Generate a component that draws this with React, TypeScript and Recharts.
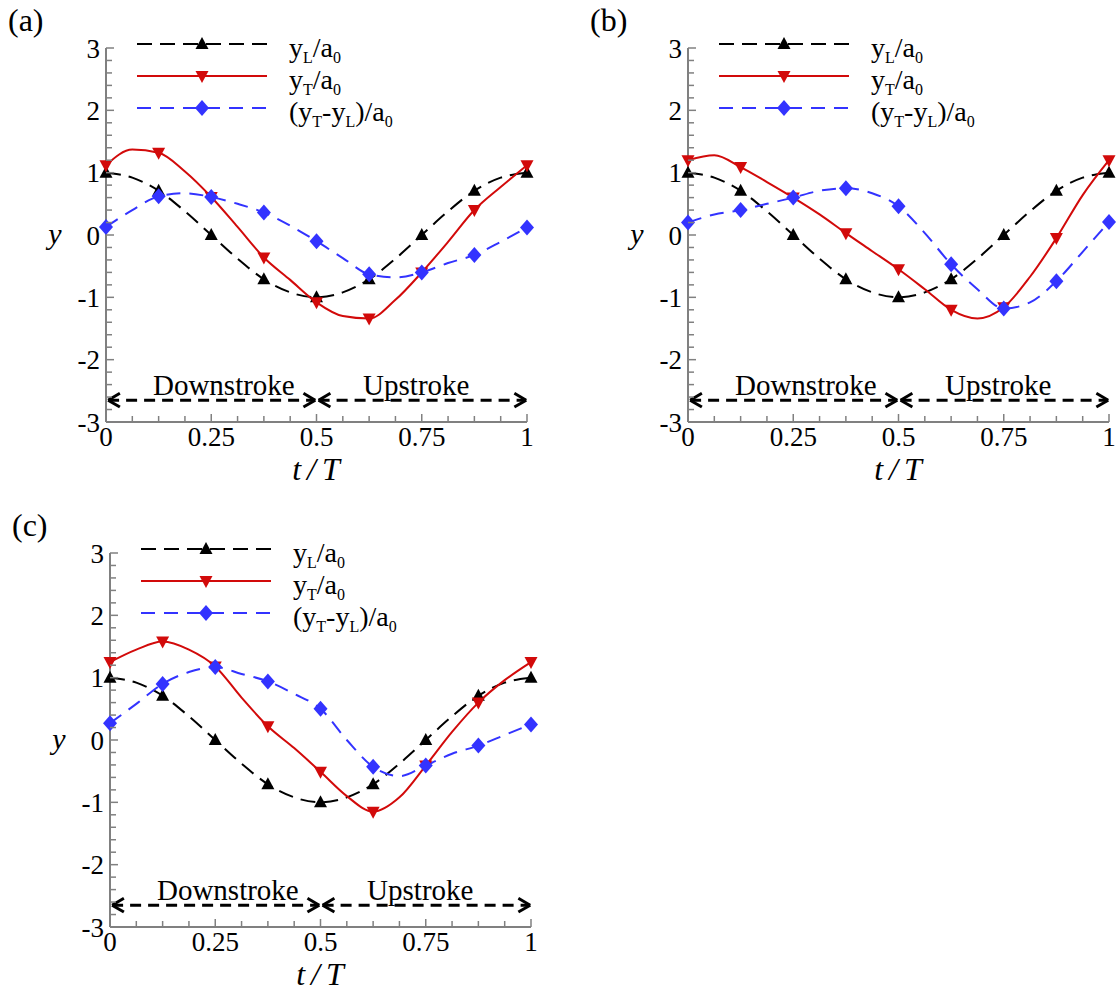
import React from 'react';
import {
  LineChart,
  Line,
  XAxis,
  YAxis,
  Legend,
  ReferenceLine,
  ReferenceDot,
} from 'recharts';

const SERIF = "'Liberation Serif', 'Times New Roman', serif";
const AXIS = '#808080';
const BLACK = '#000000';
const RED = '#d20a0a';
const BLUE = '#3333ff';

// phase t/T, sampled every 1/16 of a cycle (markers sit on every 1/8)
const tValues = [
  0, 0.0625, 0.125, 0.1875, 0.25, 0.3125, 0.375, 0.4375, 0.5,
  0.5625, 0.625, 0.6875, 0.75, 0.8125, 0.875, 0.9375, 1,
];
const xTicks = tValues;
const xMajor = [0, 0.25, 0.5, 0.75, 1];
const yTicks = [
  -3, -2.8, -2.6, -2.4, -2.2, -2, -1.8, -1.6, -1.4, -1.2, -1, -0.8, -0.6, -0.4, -0.2,
  0, 0.2, 0.4, 0.6, 0.8, 1, 1.2, 1.4, 1.6, 1.8, 2, 2.2, 2.4, 2.6, 2.8, 3,
];
const yMajor = [-3, -2, -1, 0, 1, 2, 3];

// leading edge y_L/a0 (same prescribed motion in every case)
const leadingEdge = [1, 0.92, 0.71, 0.38, 0, -0.38, -0.71, -0.92, -1, -0.92, -0.71, -0.38, 0, 0.38, 0.71, 0.92, 1];

// case (a)
const trailingA = [1.12, 1.37, 1.32, 1.02, 0.61, 0.13, -0.36, -0.72, -1.08, -1.3, -1.34, -1.04, -0.6, -0.11, 0.4, 0.77, 1.12];
const relativeA = [0.13, 0.4, 0.62, 0.67, 0.61, 0.5, 0.36, 0.15, -0.1, -0.37, -0.63, -0.68, -0.6, -0.45, -0.32, -0.11, 0.12];

// case (b)
const trailingB = [1.2, 1.28, 1.09, 0.85, 0.6, 0.33, 0.03, -0.26, -0.55, -0.87, -1.2, -1.34, -1.16, -0.67, -0.05, 0.64, 1.2];
const relativeB = [0.2, 0.33, 0.4, 0.5, 0.6, 0.71, 0.75, 0.67, 0.46, 0.03, -0.47, -0.87, -1.18, -1.08, -0.74, -0.27, 0.21];

// case (c)
const trailingC = [1.25, 1.45, 1.58, 1.45, 1.18, 0.68, 0.22, -0.13, -0.51, -0.9, -1.15, -0.92, -0.41, 0.13, 0.6, 0.96, 1.25];
const relativeC = [0.27, 0.58, 0.9, 1.09, 1.17, 1.06, 0.94, 0.74, 0.5, 0, -0.43, -0.58, -0.41, -0.22, -0.09, 0.08, 0.25];

const ARROW_Y = -2.65;
const STROKE_LABEL_Y = -2.57;

type Shape = 'up' | 'down' | 'diamond';

function Marker({ shape, cx, cy, color }: { shape: Shape; cx: number; cy: number; color: string }) {
  let pts = '';
  if (shape === 'up') pts = `${cx},${cy - 7} ${cx - 6.5},${cy + 5} ${cx + 6.5},${cy + 5}`;
  else if (shape === 'down') pts = `${cx - 6.5},${cy - 5} ${cx + 6.5},${cy - 5} ${cx},${cy + 7}`;
  else pts = `${cx},${cy - 8} ${cx + 7},${cy} ${cx},${cy + 8} ${cx - 7},${cy}`;
  return <polygon points={pts} fill={color} stroke="none" />;
}

const dotEvery8th = (shape: Shape, color: string) => (p: any) =>
  p.index % 2 === 0 ? (
    <Marker key={p.index} shape={shape} cx={p.cx} cy={p.cy} color={color} />
  ) : (
    <g key={p.index} />
  );

const SUB: React.CSSProperties = { fontSize: 16, verticalAlign: '-6px', lineHeight: 0 };

const legendRows = [
  {
    key: 'yL',
    color: BLACK,
    dash: '15 8',
    shape: 'up' as Shape,
    label: (
      <>
        y<sub style={SUB}>L</sub>/a<sub style={SUB}>0</sub>
      </>
    ),
  },
  {
    key: 'yT',
    color: RED,
    dash: undefined,
    shape: 'down' as Shape,
    label: (
      <>
        y<sub style={SUB}>T</sub>/a<sub style={SUB}>0</sub>
      </>
    ),
  },
  {
    key: 'dy',
    color: BLUE,
    dash: '14 9',
    shape: 'diamond' as Shape,
    label: (
      <>
        (y<sub style={SUB}>T</sub>-y<sub style={SUB}>L</sub>)/a<sub style={SUB}>0</sub>
      </>
    ),
  },
];

const renderLegend = () => (
  <div style={{ fontFamily: SERIF, fontSize: 28, color: '#000' }}>
    {legendRows.map((r) => (
      <div key={r.key} style={{ display: 'flex', alignItems: 'center', height: 32 }}>
        <svg width={130} height={20} style={{ display: 'block' }}>
          <line x1={0} x2={130} y1={10} y2={10} stroke={r.color} strokeWidth={2} strokeDasharray={r.dash} />
          <Marker shape={r.shape} cx={65} cy={10} color={r.color} />
        </svg>
        <span style={{ marginLeft: 22, lineHeight: '32px', position: 'relative', top: 4, whiteSpace: 'nowrap' }}>
          {r.label}
        </span>
      </div>
    ))}
  </div>
);

const renderXTick = (p: any) => {
  const v = p.payload.value;
  const major = xMajor.includes(v);
  return (
    <g>
      <line x1={p.x} x2={p.x} y1={p.y} y2={p.y - (major ? 8 : 6)} stroke={AXIS} strokeWidth={1.5} />
      {major && (
        <text x={p.x} y={p.y + 24} textAnchor="middle" fontFamily={SERIF} fontSize={27} fill="#000">
          {String(v)}
        </text>
      )}
    </g>
  );
};

const renderYTick = (p: any) => {
  const v = p.payload.value;
  const major = yMajor.includes(v);
  return (
    <g>
      <line x1={p.x} x2={p.x + (major ? 8 : 6)} y1={p.y} y2={p.y} stroke={AXIS} strokeWidth={1.5} />
      {major && (
        <text x={p.x - 6} y={p.y} dy="0.36em" textAnchor="end" fontFamily={SERIF} fontSize={27} fill="#000">
          {String(v)}
        </text>
      )}
    </g>
  );
};

// dashed double-headed arrow between two phases
const arrow = (id: string, from: number, to: number) => {
  const hx = 0.028;
  const hy = 0.11;
  const st = { stroke: BLACK, strokeWidth: 3 };
  return [
    <ReferenceLine key={id + 's'} segment={[{ x: from, y: ARROW_Y }, { x: to, y: ARROW_Y }]} {...st} strokeDasharray="11 7" />,
    <ReferenceLine key={id + 'l1'} segment={[{ x: from, y: ARROW_Y }, { x: from + hx, y: ARROW_Y + hy }]} {...st} />,
    <ReferenceLine key={id + 'l2'} segment={[{ x: from, y: ARROW_Y }, { x: from + hx, y: ARROW_Y - hy }]} {...st} />,
    <ReferenceLine key={id + 'r1'} segment={[{ x: to, y: ARROW_Y }, { x: to - hx, y: ARROW_Y + hy }]} {...st} />,
    <ReferenceLine key={id + 'r2'} segment={[{ x: to, y: ARROW_Y }, { x: to - hx, y: ARROW_Y - hy }]} {...st} />,
  ];
};

const strokeLabel = (text: string, t: number) => (
  <ReferenceDot
    key={text}
    x={t}
    y={STROKE_LABEL_Y}
    r={0}
    shape={(p: any) => (
      <text x={p.cx} y={p.cy} textAnchor="middle" fontFamily={SERIF} fontSize={29} fill="#000">
        {text}
      </text>
    )}
  />
);

interface PanelProps {
  tag: string;
  left: number;
  top: number;
  trailing: number[];
  relative: number[];
}

function Panel({ tag, left, top, trailing, relative }: PanelProps) {
  const data = tValues.map((t, i) => ({ t, yL: leadingEdge[i], yT: trailing[i], dy: relative[i] }));

  return (
    <div style={{ position: 'absolute', left, top, width: 560, height: 494 }}>
      <LineChart width={560} height={480} data={data} margin={{ top: 48, right: 33, bottom: 8, left: 46 }}>
        <XAxis
          dataKey="t"
          type="number"
          domain={[0, 1]}
          ticks={xTicks}
          interval={0}
          height={50}
          tickSize={0}
          tickMargin={0}
          tickLine={false}
          tick={renderXTick}
          axisLine={{ stroke: AXIS, strokeWidth: 2 }}
        />
        <YAxis
          type="number"
          domain={[-3, 3]}
          ticks={yTicks}
          interval={0}
          width={60}
          tickSize={0}
          tickMargin={0}
          tickLine={false}
          tick={renderYTick}
          axisLine={{ stroke: AXIS, strokeWidth: 2 }}
        />
        <Legend
          content={renderLegend}
          layout="vertical"
          align="center"
          verticalAlign="middle"
          wrapperStyle={{ left: 137, top: 28, width: 'auto' }}
        />
        {arrow('down', 0.005, 0.497)}
        {arrow('up', 0.505, 0.998)}
        {strokeLabel('Downstroke', 0.28)}
        {strokeLabel('Upstroke', 0.737)}
        <Line
          dataKey="yL"
          type="monotone"
          stroke={BLACK}
          strokeWidth={2}
          strokeDasharray="15 8"
          dot={dotEvery8th('up', BLACK)}
          activeDot={false}
          isAnimationActive={false}
        />
        <Line
          dataKey="yT"
          type="monotone"
          stroke={RED}
          strokeWidth={2}
          dot={dotEvery8th('down', RED)}
          activeDot={false}
          isAnimationActive={false}
        />
        <Line
          dataKey="dy"
          type="monotone"
          stroke={BLUE}
          strokeWidth={2}
          strokeDasharray="14 9"
          dot={dotEvery8th('diamond', BLUE)}
          activeDot={false}
          isAnimationActive={false}
        />
      </LineChart>
      <svg
        width={560}
        height={494}
        style={{ position: 'absolute', left: 0, top: 0, pointerEvents: 'none' }}
      >
        <text x={8} y={31} fontFamily={SERIF} fontSize={32} fill="#000">
          {tag}
        </text>
        <text x={55} y={244} textAnchor="middle" fontFamily={SERIF} fontStyle="italic" fontSize={30} fill="#000">
          y
        </text>
        <text
          x={319}
          y={480}
          textAnchor="middle"
          fontFamily={SERIF}
          fontStyle="italic"
          fontSize={32}
          letterSpacing={6}
          fill="#000"
        >
          t/T
        </text>
      </svg>
    </div>
  );
}

export default function App() {
  return (
    <div style={{ position: 'absolute', left: 0, top: 0, width: 1116, height: 994, background: '#fff' }}>
      <Panel tag="(a)" left={0} top={0} trailing={trailingA} relative={relativeA} />
      <Panel tag="(b)" left={582} top={0} trailing={trailingB} relative={relativeB} />
      <Panel tag="(c)" left={4} top={505} trailing={trailingC} relative={relativeC} />
    </div>
  );
}
